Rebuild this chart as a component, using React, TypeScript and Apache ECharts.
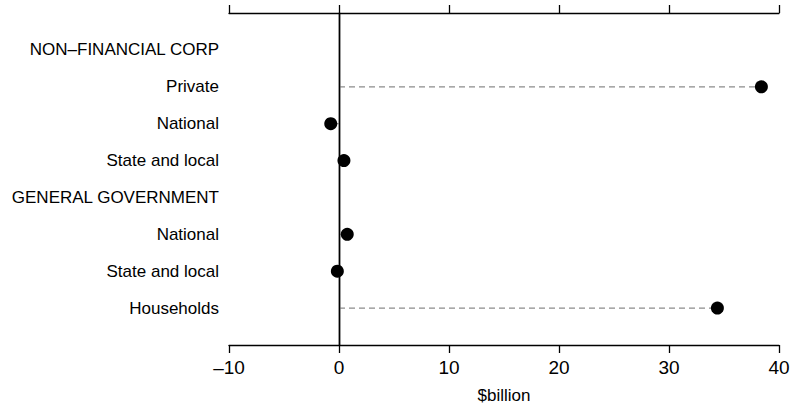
import React, { useEffect, useRef } from "react";
import * as echarts from "echarts";

const categories = [
  "",
  "NON–FINANCIAL CORP",
  "Private",
  "National",
  "State and local",
  "GENERAL GOVERNMENT",
  "National",
  "State and local",
  "Households",
  "",
];
// value per row index (null = heading row)
const values: (number | null)[] = [null, null, 38.4, -0.75, 0.45, null, 0.75, -0.15, 34.4, null];
const xTicks = [-10, 0, 10, 20, 30, 40];
const xName = "$billion";

const FONT = "Liberation Sans";

export default function App() {
  const ref = useRef<HTMLDivElement>(null);
  useEffect(() => {
    if (!ref.current) return;
    const chart = echarts.init(ref.current, undefined, { renderer: "svg" });
    const points = values
      .map((v, i) => (v === null ? null : [v, i]))
      .filter((p) => p !== null) as number[][];
    const xmin = xTicks[0];
    const xmax = xTicks[xTicks.length - 1];
    const interval = xTicks[1] - xTicks[0];
    const axisLine = { show: true, lineStyle: { color: "#000", width: 1.3 } };
    chart.setOption({
      animation: false,
      textStyle: { fontFamily: FONT },
      grid: { left: 229, right: 18, top: 13, bottom: 65, containLabel: false, outerBoundsMode: "none" },
      xAxis: [
        {
          type: "value",
          position: "bottom",
          min: xmin,
          max: xmax,
          interval,
          axisLine,
          axisTick: { show: true, inside: false, length: 8, lineStyle: { color: "#000", width: 1.3 } },
          splitLine: { show: false },
          axisLabel: {
            color: "#000",
            fontSize: 19,
            fontFamily: FONT,
            margin: 13,
            formatter: (v: number) => String(v).replace("-", "–"),
          },
          name: xName,
          nameLocation: "middle",
          nameGap: 42,
          nameTextStyle: { color: "#000", fontSize: 17, fontFamily: FONT },
        },
        {
          type: "value",
          position: "top",
          min: xmin,
          max: xmax,
          interval,
          axisLine,
          axisTick: { show: true, inside: false, length: 8, lineStyle: { color: "#000", width: 1.3 } },
          splitLine: { show: false },
          axisLabel: { show: false },
        },
      ],
      yAxis: [
        {
          type: "category",
          data: categories,
          inverse: true,
          boundaryGap: false,
          position: "left",
          axisLine,
          axisTick: { show: false },
          splitLine: { show: false },
          axisLabel: { color: "#000", fontSize: 17, fontFamily: FONT, margin: 10, interval: 0 },
        },
        {
          type: "category",
          data: categories,
          inverse: true,
          boundaryGap: false,
          position: "right",
          axisLine,
          axisTick: { show: false },
          axisLabel: { show: false },
        },
      ],
      series: [
        {
          type: "custom",
          xAxisIndex: 0,
          yAxisIndex: 0,
          data: points,
          renderItem: (params: any, api: any) => {
            const y = api.value(1);
            const p0 = api.coord([0, y]);
            const p1 = api.coord([api.value(0), y]);
            return {
              type: "line",
              shape: { x1: p0[0], y1: p0[1], x2: p1[0], y2: p1[1] },
              style: { stroke: "#8c8c8c", lineWidth: 1.3, lineDash: [6, 4] },
            };
          },
          z: 1,
        },
        {
          type: "scatter",
          xAxisIndex: 0,
          yAxisIndex: 0,
          data: points,
          symbol: "circle",
          symbolSize: 13,
          itemStyle: { color: "#000", opacity: 1 },
          z: 3,
          markLine: {
            silent: true,
            symbol: "none",
            label: { show: false },
            lineStyle: { color: "#000", type: "solid", width: 1.3 },
            data: [{ xAxis: 0 }],
          },
        },
      ],
    });
    return () => chart.dispose();
  }, []);
  return (
    <div
      ref={ref}
      style={{ position: "fixed", left: 0, top: 0, width: 797, height: 410, background: "#fff" }}
    />
  );
}
